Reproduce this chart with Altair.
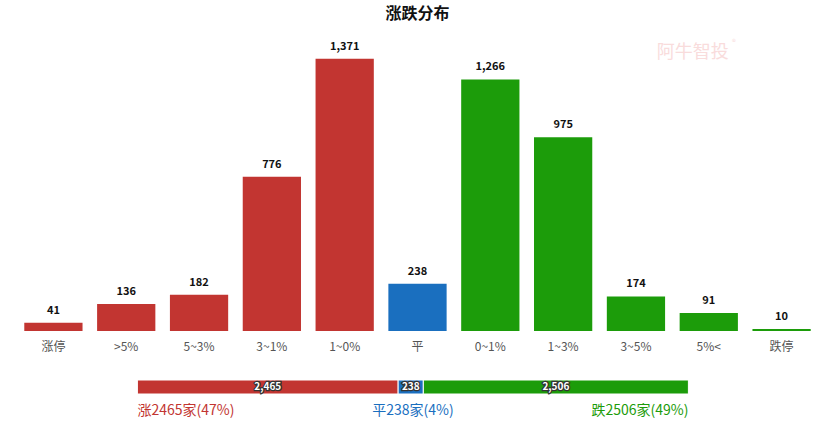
import altair as alt
import pandas as pd

categories = ["涨停", ">5%", "5~3%", "3~1%", "1~0%", "平", "0~1%", "1~3%", "3~5%", "5%<", "跌停"]
counts = [41, 136, 182, 776, 1371, 238, 1266, 975, 174, 91, 10]
groups = ["up"] * 5 + ["flat"] + ["down"] * 5

summary_keys = ["up", "flat", "down"]
summary_values = [2465, 238, 2506]
summary_names = ["涨", "平", "跌"]
summary_pct = ["47%", "4%", "49%"]

watermark_text = ["阿牛智投"]
watermark_cat = ["5%<"]
watermark_y = [1400]

bar_colors = {"up": "#c23531", "flat": "#1a6fbf", "down": "#1c9c0a"}
text_colors = {"up": "#e0413c", "flat": "#2b7fd0", "down": "#3a9e22"}

FONT = "Noto Sans CJK SC"

df = pd.DataFrame({"cat": categories, "count": counts, "grp": groups})
df["label"] = df["count"].map(lambda v: f"{v:,}")
wdf = pd.DataFrame({"cat": watermark_cat, "count": watermark_y, "t": watermark_text})

color_scale = alt.Scale(domain=list(bar_colors.keys()), range=list(bar_colors.values()))
yscale = alt.Scale(domain=[0, 1500], nice=False)
xscale = alt.Scale(domain=categories, paddingInner=0.2, paddingOuter=0.1)

x_enc = alt.X("cat:N", scale=xscale,
              axis=alt.Axis(title=None, domain=False, ticks=False, labelAngle=0,
                            labelFontSize=12, labelColor="#555555", labelPadding=10,
                            labelFont=FONT, grid=False))
y_enc = alt.Y("count:Q", scale=yscale, axis=None)

bars = alt.Chart(df).mark_bar().encode(
    x=x_enc, y=y_enc,
    color=alt.Color("grp:N", scale=color_scale, legend=None),
)
labels = alt.Chart(df).mark_text(baseline="bottom", dy=-7, fontSize=11,
                                 fontWeight=600, color="#111111", font=FONT).encode(
    x=alt.X("cat:N", scale=xscale), y=alt.Y("count:Q", scale=yscale), text="label:N"
)
wm = alt.Chart(wdf).mark_text(
    fontSize=18, fontWeight="normal", font=FONT, color="#f9dcdc", dx=-16
).encode(x=alt.X("cat:N", scale=xscale), y=alt.Y("count:Q", scale=yscale), text="t:N")
wm_r = alt.Chart(wdf).mark_text(
    fontSize=8, font=FONT, color="#f9dcdc", dx=25, dy=-10
).encode(x=alt.X("cat:N", scale=xscale), y=alt.Y("count:Q", scale=yscale), text=alt.value("®"))

top = alt.layer(bars, labels, wm, wm_r).properties(width=801, height=298)

# summary bar
total = sum(summary_values)
starts = [0, summary_values[0], summary_values[0] + summary_values[1]]
sdf = pd.DataFrame({
    "key": summary_keys,
    "x0": starts,
    "x1": [s + v for s, v in zip(starts, summary_values)],
    "val": summary_values,
    "row": ["bar"] * 3,
})
sdf["mid"] = (sdf["x0"] + sdf["x1"]) / 2
sdf["lab"] = sdf["val"].map(lambda v: f"{v:,}")

tdf = pd.DataFrame({
    "key": summary_keys,
    "pos": [0, total / 2, total],
    "txt": [f"{n}{v}家({p})" for n, v, p in zip(summary_names, summary_values, summary_pct)],
    "row": ["legend"] * 3,
    "al": ["left", "center", "right"],
})

sx = alt.Scale(domain=[0, total], range=[120.4, 671.4], nice=False)
sy = alt.Scale(domain=["bar", "legend"], paddingInner=0, paddingOuter=0)

sbar = alt.Chart(sdf).mark_bar(size=14, stroke="white", strokeWidth=1).encode(
    x=alt.X("x0:Q", scale=sx, axis=None),
    x2="x1:Q",
    y=alt.Y("row:N", scale=sy, axis=None),
    color=alt.Color("key:N", scale=color_scale, legend=None),
)
slab_stroke = alt.Chart(sdf).mark_text(fontSize=10, fontWeight="bold", font=FONT,
                                       stroke="#333333", strokeWidth=2.5, color="#333333").encode(
    x=alt.X("mid:Q", scale=sx), y=alt.Y("row:N", scale=sy), text="lab:N"
)
slab = alt.Chart(sdf).mark_text(fontSize=10, fontWeight="bold", font=FONT,
                                color="white").encode(
    x=alt.X("mid:Q", scale=sx), y=alt.Y("row:N", scale=sy), text="lab:N"
)

tcolor = alt.Scale(domain=list(text_colors.keys()), range=list(text_colors.values()))
legend_texts = []
for al in ["left", "center", "right"]:
    legend_texts.append(
        alt.Chart(tdf[tdf["al"] == al]).mark_text(align=al, fontSize=14, font=FONT).encode(
            x=alt.X("pos:Q", scale=sx), y=alt.Y("row:N", scale=sy), text="txt:N",
            color=alt.Color("key:N", scale=tcolor, legend=None),
        )
    )

bottom = alt.layer(sbar, slab_stroke, slab, *legend_texts).properties(width=801, height=48)

chart = alt.vconcat(top, bottom, spacing=23).resolve_scale(color="independent").properties(
    title=alt.TitleParams("涨跌分布", fontSize=16, fontWeight="bold", font=FONT,
                          color="#111111", anchor="middle", offset=11),
    padding={"left": 17, "top": 6, "right": 5, "bottom": 0},
).configure_view(stroke=None)

chart.save("out.html", embed_options={"renderer": "svg", "actions": False})
